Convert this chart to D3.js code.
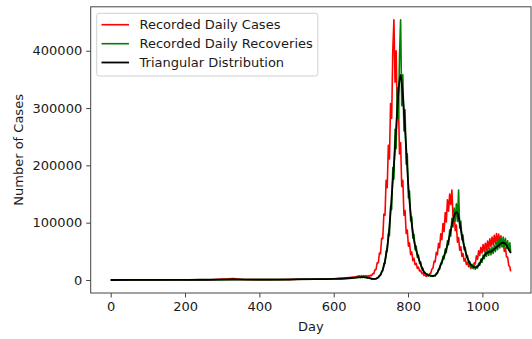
<!DOCTYPE html>
<html>
<head>
<meta charset="utf-8">
<script src="https://cdn.jsdelivr.net/npm/d3@7/dist/d3.min.js"></script>
<style>
  html, body { margin: 0; padding: 0; background: #fff; }
  svg { display: block; font-family: "DejaVu Sans", sans-serif; }
</style>
</head>
<body>
<svg id="chart" width="532" height="339"></svg>
<script>
// Sample days shared by the recorded series
const recordDays = [
  0, 30, 60, 90, 120, 150, 180, 210, 240, 270, 300, 330, 360, 390, 420, 450, 480, 510, 540, 570, 600, 630, 660,
  669, 672, 675, 678, 681, 684, 687, 690, 693, 696, 699, 702, 705, 708, 711, 714, 717, 720, 723, 726, 729, 732,
  735, 738, 741, 744, 747, 750, 753, 756, 759, 762, 765, 768, 771, 774, 777, 780, 783, 786, 789, 792, 795, 798,
  801, 804, 807, 810, 813, 816, 819, 822, 825, 828, 831, 834, 837, 840, 843, 846, 849, 852, 855, 858, 861, 864,
  867, 870, 873, 876, 879, 882, 885, 888, 891, 894, 897, 900, 903, 906, 909, 912, 915, 918, 921, 924, 927, 930,
  933, 936, 939, 942, 945, 948, 951, 954, 957, 960, 963, 966, 969, 972, 975, 978, 981, 984, 987, 990, 993, 996,
  999, 1002, 1005, 1008, 1011, 1014, 1017, 1020, 1023, 1026, 1029, 1032, 1035, 1038, 1041, 1044, 1047, 1050,
  1053, 1056, 1059, 1062, 1065, 1068, 1071, 1074, 1076
];

// Recorded daily cases
const dailyCases = [
  0, 100, 150, 100, 200, 150, 300, 250, 400, 500, 1800, 2400, 900, 700, 600, 800, 700, 1600, 1200, 1500, 2200, 3500, 5500,
  7300, 6000, 7600, 6000, 7500, 5900, 7500, 6000, 7700, 6200, 8400, 7500, 11200, 11000, 17900, 18500, 30200, 30000,
  47000, 45800, 72800, 72200, 115000, 113000, 174000, 161000, 235000, 211000, 308000, 282000, 400000, 454000,
  345000, 400000, 282000, 318000, 220000, 240000, 163000, 174000, 113000, 121000, 81000, 87000, 59000, 65000,
  44000, 49000, 33500, 38000, 26500, 29000, 20200, 22400, 15800, 16800, 11400, 12300, 7900, 9000, 6200, 7800,
  7000, 11200, 11400, 19000, 20200, 32500, 31700, 48200, 44000, 63800, 56300, 80600, 70400, 98600, 84500,
  117600, 101200, 140000, 120000, 150000, 132000, 157000, 110000, 122000, 86000, 96000, 66000, 74000, 52000,
  58000, 41000, 46000, 33000, 37000, 27000, 31000, 23000, 27000, 20000, 26000, 20000, 30000, 28000, 42000,
  36000, 51000, 43000, 57000, 47000, 62000, 50000, 64000, 52000, 68000, 55000, 72000, 58000, 75000, 61000,
  78000, 63000, 81000, 64000, 80000, 65000, 77000, 58000, 68000, 50000, 56000, 40000, 40000, 25000, 23000, 15000
];

// Recorded daily recoveries
const dailyRecoveries = [
  0, 100, 100, 200, 200, 300, 300, 400, 400, 500, 700, 900, 800, 700, 600, 700, 800, 1200, 1300, 1800, 2200, 2800, 4000,
  5000, 4200, 5600, 4400, 5600, 4200, 5000, 3500, 4100, 2900, 3100, 1900, 2000, 1600, 2000, 2200, 3700, 4400,
  7800, 8400, 15100, 15800, 29100, 29000, 50400, 50200, 80600, 77400, 128800, 123200, 196000, 176000, 263000,
  229000, 336000, 282000, 390000, 454000, 304000, 358000, 260000, 297000, 202000, 220000, 143000, 155000,
  103000, 110000, 73000, 79500, 52800, 59400, 39600, 43700, 29000, 31400, 19400, 20200, 12300, 13400, 8800,
  10100, 7000, 9000, 6600, 7800, 6200, 8100, 7000, 11800, 11400, 19000, 18500, 29100, 28200, 41400, 37000,
  53800, 47500, 68300, 61600, 87400, 76600, 107500, 92400, 125400, 103000, 133000, 102000, 157000, 90600,
  103000, 70400, 78400, 52800, 57100, 38700, 42600, 29000, 32500, 22900, 27400, 20200, 25200, 18900, 24600,
  20700, 29100, 25500, 36400, 30800, 43700, 37000, 50400, 41400, 53800, 43100, 55400, 44000, 57100, 46200,
  60500, 49300, 65000, 52800, 69400, 55900, 72800, 58100, 75000, 58100, 72800, 55400, 68300, 51900, 65000, 49300
];

// Triangular distribution fit
const fitDays = [
  0, 60, 120, 180, 240, 300, 330, 360, 400, 450, 500, 550, 600, 630, 650, 665, 680, 695, 705, 712, 718, 724,
  728, 734, 740, 746, 752, 758, 764, 770, 775, 780, 785, 790, 795, 800, 805, 810, 815, 820, 825, 831, 837, 843,
  850, 858, 866, 872, 878, 884, 890, 896, 902, 908, 914, 920, 926, 930, 934, 940, 946, 952, 958, 964, 970, 976,
  982, 988, 994, 1000, 1006, 1012, 1018, 1024, 1030, 1036, 1042, 1048, 1054, 1060, 1066, 1072, 1077
];
const fitValues = [
  0, 100, 200, 300, 400, 500, 900, 800, 700, 600, 900, 1500, 2000, 2600, 3500, 4500, 5000, 3500, 1800, 1800,
  3500, 7500, 12000, 22000, 40000, 67000, 110000, 165000, 220000, 285000, 335000, 358000, 330000, 285000, 230000,
  172000, 130000, 98000, 74000, 57000, 45000, 33000, 22000, 14000, 10000, 8000, 7000, 7500, 12000, 20000, 30000,
  40000, 52000, 66000, 84000, 102000, 115000, 119000, 115000, 96000, 74000, 56000, 42000, 32000, 26000, 23000,
  21500, 24000, 30000, 37000, 43000, 47000, 49000, 50000, 53000, 56000, 59000, 63000, 65000, 64000, 59000,
  52000, 47000
];

const xTicks = [0, 200, 400, 600, 800, 1000];
const yTicks = [0, 100000, 200000, 300000, 400000];

const seriesNames = ["Recorded Daily Cases", "Recorded Daily Recoveries", "Triangular Distribution"];
const seriesColors = ["#ff0000", "#008000", "#000000"];

const svg = d3.select("#chart");
const plot = { left: 90.7, right: 531, top: 6.8, bottom: 293 };

const casesData = d3.zip(recordDays, dailyCases);
const recoveriesData = d3.zip(recordDays, dailyRecoveries);
const fitData = d3.zip(fitDays, fitValues);

// Axis limits padded by 5% of the data span on each side
const allDays = recordDays.concat(fitDays);
const allVals = dailyCases.concat(dailyRecoveries, fitValues);
const [dx0, dx1] = d3.extent(allDays);
const [dy0, dy1] = d3.extent(allVals);
const padX = (dx1 - dx0) * 0.05, padY = (dy1 - dy0) * 0.05;

const x = d3.scaleLinear().domain([dx0 - padX, dx1 + padX]).range([plot.left, plot.right]);
const y = d3.scaleLinear().domain([dy0 - padY, dy1 + padY]).range([plot.bottom, plot.top]);

const lineLinear = d3.line().x(d => x(d[0])).y(d => y(d[1]));
const lineSmooth = d3.line().x(d => x(d[0])).y(d => y(d[1])).curve(d3.curveMonotoneX);

svg.append("path").datum(casesData).attr("d", lineLinear)
  .attr("fill", "none").attr("stroke", seriesColors[0]).attr("stroke-width", 1.6).attr("stroke-linejoin", "round");
svg.append("path").datum(recoveriesData).attr("d", lineLinear)
  .attr("fill", "none").attr("stroke", seriesColors[1]).attr("stroke-width", 1.6).attr("stroke-linejoin", "round");
svg.append("path").datum(fitData).attr("d", lineSmooth)
  .attr("fill", "none").attr("stroke", seriesColors[2]).attr("stroke-width", 1.8).attr("stroke-linejoin", "round");

// Axes
const xAxis = d3.axisBottom(x).tickValues(xTicks).tickSize(4.5).tickPadding(4).tickFormat(d3.format("d"));
const yAxis = d3.axisLeft(y).tickValues(yTicks).tickSize(4.5).tickPadding(4).tickFormat(d3.format("d"));

const gx = svg.append("g").attr("transform", `translate(0,${plot.bottom})`).call(xAxis);
const gy = svg.append("g").attr("transform", `translate(${plot.left},0)`).call(yAxis);
[gx, gy].forEach(g => {
  g.select(".domain").remove();
  g.selectAll(".tick line").attr("stroke", "#444").attr("stroke-width", 1);
  g.selectAll(".tick text").attr("fill", "#1a1a1a").style("font-size", "13px")
    .style("font-family", "DejaVu Sans, sans-serif");
});

// Frame
svg.append("rect")
  .attr("x", plot.left).attr("y", plot.top)
  .attr("width", plot.right - plot.left).attr("height", plot.bottom - plot.top)
  .attr("fill", "none").attr("stroke", "#444").attr("stroke-width", 1);

// Axis titles
svg.append("text").attr("x", (plot.left + plot.right) / 2).attr("y", 331)
  .attr("text-anchor", "middle").attr("fill", "#1a1a1a").style("font-size", "13px").text("Day");
svg.append("text").attr("transform", `translate(22.5,${(plot.top + plot.bottom) / 2}) rotate(-90)`)
  .attr("text-anchor", "middle").attr("fill", "#1a1a1a").style("font-size", "13px").text("Number of Cases");

// Legend
const leg = svg.append("g");
const legBox = leg.append("rect")
  .attr("x", 96.7).attr("y", 13.3).attr("height", 62.7).attr("rx", 2.5)
  .attr("fill", "#fff").attr("fill-opacity", 0.8).attr("stroke", "#d0d0d0").attr("stroke-width", 1);
const rowY = [24.7, 43.7, 62.5];
let maxW = 0;
seriesNames.forEach((name, i) => {
  leg.append("line").attr("x1", 101.5).attr("x2", 129).attr("y1", rowY[i]).attr("y2", rowY[i])
    .attr("stroke", seriesColors[i]).attr("stroke-width", i === 2 ? 1.8 : 1.6);
  const t = leg.append("text").attr("x", 139.5).attr("y", rowY[i] + 4.6)
    .attr("fill", "#1a1a1a").style("font-size", "13px").text(name);
  maxW = Math.max(maxW, t.node().getComputedTextLength());
});
legBox.attr("width", 139.5 + maxW + 5 - 96.7);
</script>
</body>
</html>
